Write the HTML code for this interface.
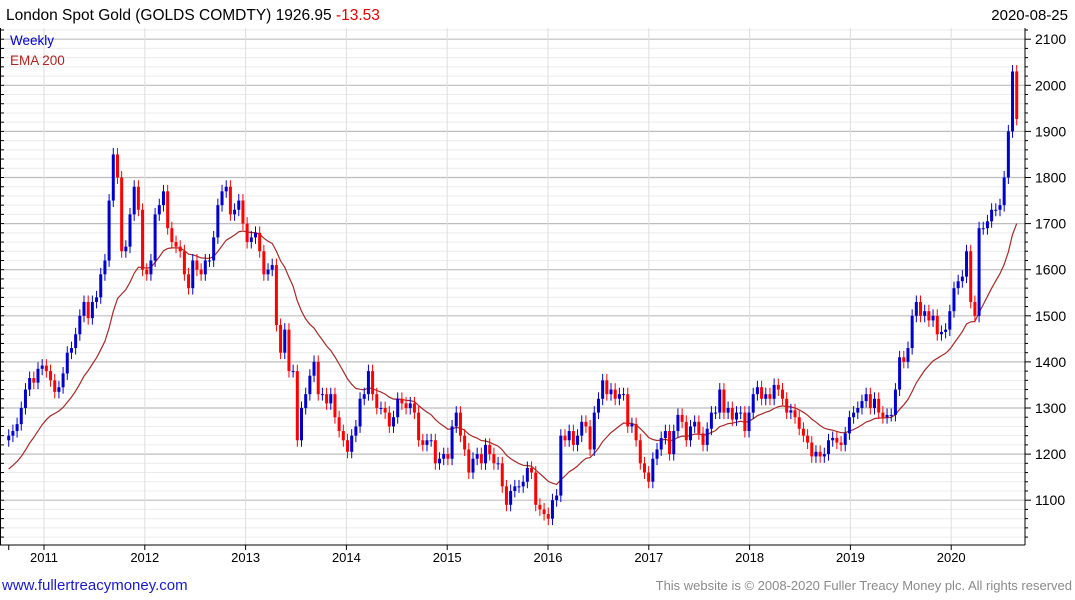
<!DOCTYPE html>
<html><head><meta charset="utf-8"><style>
body{margin:0;background:#fff;font-family:"Liberation Sans",sans-serif;}
#wrap{position:relative;width:1075px;height:600px;overflow:hidden;}
svg{position:absolute;left:0;top:0}
</style></head><body>
<div id="wrap">
<svg id="chart" width="1075" height="600">
<text x="6" y="20" font-size="15.5" fill="#000">London Spot Gold (GOLDS COMDTY) 1926.95 <tspan fill="#e00000">-13.53</tspan></text>
<text x="1068" y="20" font-size="15" fill="#000" text-anchor="end">2020-08-25</text>
<g id="grid"></g><g id="ema"></g><g id="bars"></g><g id="axes"></g>
<text x="10" y="45" font-size="13.5" fill="#0000cc">Weekly</text>
<text x="10" y="65" font-size="13.5" fill="#b22222">EMA 200</text>
<text x="2" y="590" font-size="15" fill="#1a1acc">www.fullertreacymoney.com</text>
<text x="1072" y="590" font-size="13" fill="#8a8a8a" text-anchor="end">This website is © 2008-2020 Fuller Treacy Money plc. All rights reserved</text>
</svg></div>
<script>
const yTicks=[1100,1200,1300,1400,1500,1600,1700,1800,1900,2000,2100];
const years=[2011,2012,2013,2014,2015,2016,2017,2018,2019,2020];
const startYear=2010.65; // first bar date (year fraction), biweekly steps
const closes=[
1240,1250,1265,1300,1340,1365,1355,1385,1392,1380,
1360,1335,1345,1375,1420,1430,1460,1500,1530,1495,1530,1540,1590,1620,1750,1850,1800,1640,1650,1720,1780,1730,1600,1590,
1620,1720,1740,1770,1690,1660,1650,1640,1590,1560,1620,1600,1590,1620,1620,1670,1740,1770,1780,1720,1730,1750,1700,1660,
1670,1680,1640,1590,1600,1610,1480,1420,1470,1380,1380,1230,1300,1330,1370,1400,1330,1330,1310,1330,1280,1250,1230,1205,
1240,1260,1320,1330,1380,1330,1300,1300,1290,1260,1280,1320,1310,1300,1310,1290,1230,1220,1230,1230,1180,1190,1200,1190,
1260,1290,1240,1210,1160,1190,1200,1180,1220,1200,1180,1180,1130,1090,1120,1130,1130,1140,1170,1160,1090,1080,1070,1060,
1100,1110,1240,1230,1250,1220,1240,1270,1260,1210,1290,1320,1360,1330,1340,1320,1330,1330,1260,1265,1230,1180,1160,1140,
1190,1210,1235,1250,1200,1250,1285,1270,1230,1260,1270,1245,1220,1255,1290,1290,1340,1290,1300,1275,1290,1290,1250,1290,
1330,1345,1320,1330,1320,1350,1340,1320,1290,1295,1280,1255,1240,1225,1195,1205,1195,1200,1230,1235,1225,1220,1245,1280,
1290,1300,1315,1330,1300,1320,1290,1280,1285,1285,1340,1410,1400,1430,1500,1530,1500,1510,1490,1500,1460,1465,1470,1510,
1560,1575,1585,1640,1530,1500,1690,1690,1705,1730,1730,1740,1800,1900,2030,1927
];
const emaSeed=1160;
const ns='http://www.w3.org/2000/svg';
const X0=44,PX=100.8,plotL=3,plotR=1025,plotT=28,plotB=545;
const xs=t=>X0+(t-2011)*PX;
const ys=v=>85.3+(2000-v)*0.461;
function mk(tag,attrs,parent){const e=document.createElementNS(ns,tag);for(const k in attrs)e.setAttribute(k,attrs[k]);parent.appendChild(e);return e;}
const grid=document.getElementById('grid'),axes=document.getElementById('axes'),bars=document.getElementById('bars'),emaG=document.getElementById('ema');
const step=(2020.65-startYear)/(closes.length-1);
for(let v=1020;v<=2120;v+=20){const y=ys(v);if(y<plotT||y>plotB)continue;
 const major=v%100===0;
 const l=mk('line',{x1:plotL,x2:plotR,y1:y,y2:y,stroke:major?'#bdbdbd':'#ececec','stroke-width':major?1.2:1},grid);
 
 
 const tk=mk('line',{x1:0,x2:4,y1:y,y2:y,stroke:'#000'},axes);
 
 
 const rt=mk('line',{x1:plotR,x2:plotR+(major?6:3),y1:y,y2:y,stroke:'#000'},axes);
 
 
}
years.forEach(yr=>{const x=xs(yr);
 const l=mk('line',{x1:x,x2:x,y1:plotT,y2:plotB,stroke:'#dedede'},grid);
 
 
 const t=mk('line',{x1:x,x2:x,y1:plotB,y2:plotB+5,stroke:'#000'},axes);
 
 
 const tx=mk('text',{x:x,y:562,'font-size':13,'text-anchor':'middle',fill:'#000'},axes);
 tx.textContent=yr;
 
 
});
{const t=mk('line',{x1:xs(2010.65),x2:xs(2010.65),y1:plotB,y2:plotB+5,stroke:'#000'},axes);
 
 }
yTicks.forEach(v=>{const tx=mk('text',{x:1035,y:ys(v)+5,'font-size':14,fill:'#000'},axes);
 tx.textContent=v;
 
 });
const ax=mk('line',{x1:plotR,x2:plotR,y1:plotT,y2:plotB,stroke:'#000'},axes);


const bx=mk('line',{x1:0,x2:plotR,y1:plotB,y2:plotB,stroke:'#000'},axes);


const lx=mk('line',{x1:0.5,x2:0.5,y1:plotT,y2:plotB,stroke:'#000'},axes);


let ema=emaSeed;const alpha=2/21;const pts=[];
closes.forEach((c,i)=>{
 const o=i>0?closes[i-1]:c-10;const x=xs(startYear+i*step);
 const up=c>=o;const col=up?'#0000cc':'#ff0000';
 const hi=Math.max(o,c)+14,lo=Math.min(o,c)-14;
 const w=mk('line',{x1:x,x2:x,y1:ys(hi),y2:ys(lo),stroke:col,'stroke-width':1},bars);
 
 
 const b=mk('rect',{x:x-1.5,y:ys(Math.max(o,c)),width:3,height:Math.max(1,ys(Math.min(o,c))-ys(Math.max(o,c))),fill:col},bars);
 
 
 ema=ema+alpha*(c-ema);pts.push(x.toFixed(1)+','+ys(ema).toFixed(1));
});
const pl=mk('polyline',{points:pts.join(' '),fill:'none',stroke:'#a52a2a','stroke-width':1.2},emaG);


</script>
</body></html>
